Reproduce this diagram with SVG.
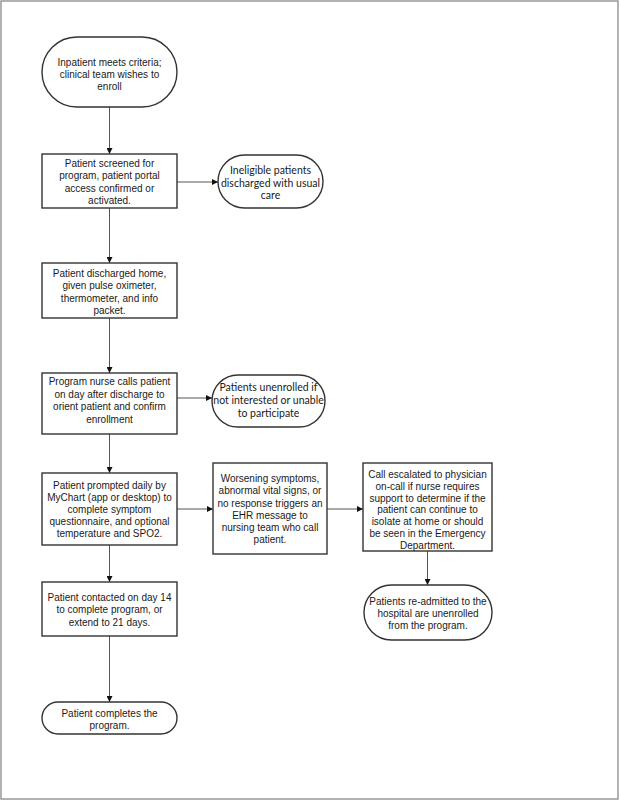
<svg xmlns="http://www.w3.org/2000/svg" width="619" height="800" viewBox="0 0 619 800">
<defs>
<marker id="ah" viewBox="0 0 10 10" refX="10" refY="5" markerWidth="6" markerHeight="6" markerUnits="userSpaceOnUse" orient="auto">
<path d="M0,0 L10,5 L0,10 z" fill="#111"/>
</marker>
<style>
.box{fill:#fff;stroke:#333;stroke-width:1.4}
.t{font-family:"Liberation Sans",Arial,sans-serif;font-size:10px;fill:#1a1a1a;text-anchor:middle}
.c{font-family:Lato,"Liberation Sans",sans-serif;font-size:10.5px;fill:#1a1a1a;text-anchor:middle}
.ln{stroke:#555;stroke-width:1;fill:none;marker-end:url(#ah)}
</style>
</defs>
<rect x="1" y="1" width="617" height="798" fill="#fff" stroke="#999" stroke-width="1.5"/>
<g id="connectors">
<line class="ln" x1="109.5" y1="107" x2="109.5" y2="154"/>
<line class="ln" x1="177" y1="182" x2="218" y2="182"/>
<line class="ln" x1="109.5" y1="208" x2="109.5" y2="263"/>
<line class="ln" x1="109.5" y1="318" x2="109.5" y2="373"/>
<line class="ln" x1="177" y1="398" x2="212" y2="398"/>
<line class="ln" x1="109.5" y1="434" x2="109.5" y2="473"/>
<line class="ln" x1="177" y1="509" x2="213" y2="509"/>
<line class="ln" x1="327" y1="509" x2="363" y2="509"/>
<line class="ln" x1="427.5" y1="551" x2="427.5" y2="585"/>
<line class="ln" x1="109.5" y1="545" x2="109.5" y2="582"/>
<line class="ln" x1="109.5" y1="636" x2="109.5" y2="702"/>
</g>
<g id="n1">
<rect class="box" x="42" y="37" width="135" height="70" rx="35" ry="35"/>
<text class="t"><tspan x="109.5" y="65.5">Inpatient meets criteria;</tspan><tspan x="109.5" y="77.5">clinical team wishes to</tspan><tspan x="109.5" y="89.5">enroll</tspan></text>
</g>
<g id="n2">
<rect class="box" x="42" y="154" width="135" height="54"/>
<text class="t"><tspan x="109.5" y="166.5">Patient screened for</tspan><tspan x="109.5" y="179">program, patient portal</tspan><tspan x="109.5" y="191.5">access confirmed or</tspan><tspan x="109.5" y="204">activated.</tspan></text>
</g>
<g id="n3">
<rect class="box" x="218" y="155" width="105" height="53" rx="26.5" ry="26.5"/>
<text class="c"><tspan x="270.5" y="174">Ineligible patients</tspan><tspan x="270.5" y="186.5">discharged with usual</tspan><tspan x="270.5" y="199">care</tspan></text>
</g>
<g id="n4">
<rect class="box" x="42" y="263" width="135" height="55"/>
<text class="t"><tspan x="109.5" y="276.5">Patient discharged home,</tspan><tspan x="109.5" y="289">given pulse oximeter,</tspan><tspan x="109.5" y="301.5">thermometer, and info</tspan><tspan x="109.5" y="314">packet.</tspan></text>
</g>
<g id="n5">
<rect class="box" x="42" y="373" width="135" height="61"/>
<text class="t"><tspan x="109.5" y="385">Program nurse calls patient</tspan><tspan x="109.5" y="397.5">on day after discharge to</tspan><tspan x="109.5" y="410">orient patient and confirm</tspan><tspan x="109.5" y="422.5">enrollment</tspan></text>
</g>
<g id="n6">
<rect class="box" x="212" y="375" width="113" height="52" rx="26" ry="26"/>
<text class="c"><tspan x="268.5" y="391">Patients unenrolled if</tspan><tspan x="268.5" y="404">not interested or unable</tspan><tspan x="268.5" y="417">to participate</tspan></text>
</g>
<g id="n7">
<rect class="box" x="42" y="473" width="135" height="72"/>
<text class="t"><tspan x="109.5" y="488.5">Patient prompted daily by</tspan><tspan x="109.5" y="500.5">MyChart (app or desktop) to</tspan><tspan x="109.5" y="512.5">complete symptom</tspan><tspan x="109.5" y="525">questionnaire, and optional</tspan><tspan x="109.5" y="537">temperature and SPO2.</tspan></text>
</g>
<g id="n8">
<rect class="box" x="213" y="463" width="114" height="91"/>
<text class="t"><tspan x="270" y="481.5">Worsening symptoms,</tspan><tspan x="270" y="494">abnormal vital signs, or</tspan><tspan x="270" y="506.5">no response triggers an</tspan><tspan x="270" y="518.5">EHR message to</tspan><tspan x="270" y="531">nursing team who call</tspan><tspan x="270" y="543">patient.</tspan></text>
</g>
<g id="n9">
<rect class="box" x="363" y="463" width="129" height="88"/>
<text class="t"><tspan x="427.5" y="477.5">Call escalated to physician</tspan><tspan x="427.5" y="489.5">on-call if nurse requires</tspan><tspan x="427.5" y="501.5">support to determine if the</tspan><tspan x="427.5" y="513">patient can continue to</tspan><tspan x="427.5" y="525">isolate at home or should</tspan><tspan x="427.5" y="537">be seen in the Emergency</tspan><tspan x="427.5" y="548.5">Department.</tspan></text>
</g>
<g id="n10">
<rect class="box" x="364" y="585" width="128" height="55" rx="27.5" ry="27.5"/>
<text class="t"><tspan x="428" y="605">Patients re-admitted to the</tspan><tspan x="428" y="617">hospital are unenrolled</tspan><tspan x="428" y="629">from the program.</tspan></text>
</g>
<g id="n11">
<rect class="box" x="42" y="582" width="135" height="54"/>
<text class="t"><tspan x="109.5" y="600.5">Patient contacted on day 14</tspan><tspan x="109.5" y="613">to complete program, or</tspan><tspan x="109.5" y="625.5">extend to 21 days.</tspan></text>
</g>
<g id="n12">
<rect class="box" x="42" y="702" width="135" height="32" rx="16" ry="16"/>
<text class="t"><tspan x="109.5" y="716.5">Patient completes the</tspan><tspan x="109.5" y="729">program.</tspan></text>
</g>
</svg>
